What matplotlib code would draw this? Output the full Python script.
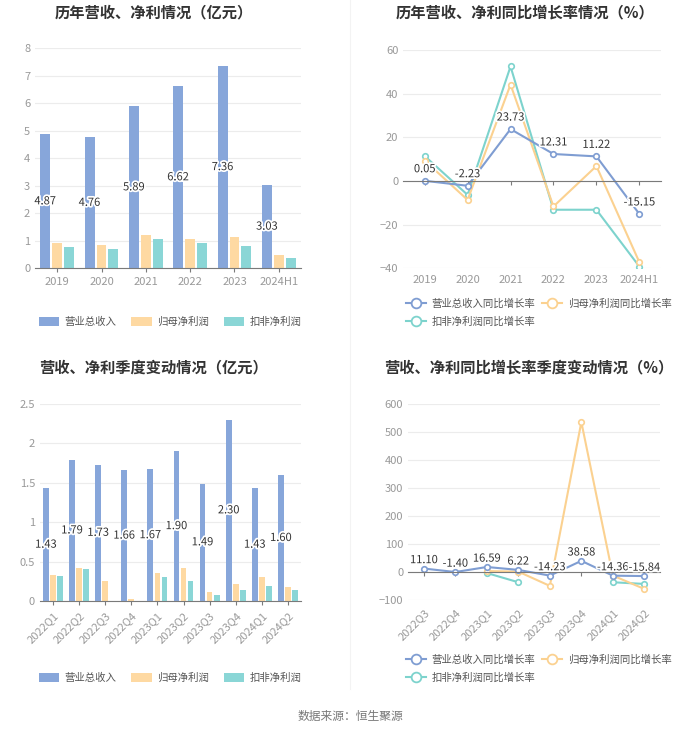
import numpy as np
import matplotlib
matplotlib.use('Agg')
import matplotlib.pyplot as plt
import matplotlib.patheffects as pe
from matplotlib.lines import Line2D
from matplotlib.patches import Patch

plt.rcParams['font.family'] = ['Noto Sans CJK SC', 'DejaVu Sans']

# 年度数据
years = ['2019', '2020', '2021', '2022', '2023', '2024H1']
rev_year = [4.87, 4.76, 5.89, 6.62, 7.36, 3.03]
np_year = [0.92, 0.85, 1.21, 1.07, 1.15, 0.49]
kf_year = [0.76, 0.70, 1.07, 0.93, 0.81, 0.36]

rev_yoy = [0.05, -2.23, 23.73, 12.31, 11.22, -15.15]
np_yoy = [9.3, -8.7, 44.1, -11.7, 6.8, -37.2]
kf_yoy = [11.4, -6.4, 52.4, -13.2, -13.2, -39.2]

# 季度数据
quarters = ['2022Q1', '2022Q2', '2022Q3', '2022Q4', '2023Q1', '2023Q2',
            '2023Q3', '2023Q4', '2024Q1', '2024Q2']
rev_q = [1.43, 1.79, 1.73, 1.66, 1.67, 1.90, 1.49, 2.30, 1.43, 1.60]
np_q = [0.33, 0.42, 0.25, 0.03, 0.35, 0.42, 0.12, 0.22, 0.31, 0.18]
kf_q = [0.32, 0.41, np.nan, np.nan, 0.31, 0.25, 0.08, 0.14, 0.19, 0.14]

quarters_yoy = ['2022Q3', '2022Q4', '2023Q1', '2023Q2', '2023Q3', '2023Q4',
                '2024Q1', '2024Q2']
rev_q_yoy = [11.10, -1.40, 16.59, 6.22, -14.23, 38.58, -14.36, -15.84]
np_q_yoy = [np.nan, np.nan, 2.0, 0.0, -51.0, 535.0, -14.0, -62.0]
kf_q_yoy = [np.nan, np.nan, -5.0, -38.0, np.nan, np.nan, -38.0, -44.0]

BLUE = '#87a6da'
YEL = '#fed9a2'
TEAL = '#8ad6d6'
LBLUE = '#7f9dd2'
LYEL = '#fbd190'
LTEAL = '#7dd3cd'
GREY = '#999999'

halo = [pe.withStroke(linewidth=2.5, foreground='white')]

fig = plt.figure(figsize=(7.0, 7.33), dpi=100)


def style_ax(ax):
    for s in ['top', 'right', 'left']:
        ax.spines[s].set_visible(False)
    ax.spines['bottom'].set_color('#7a7a7a')
    ax.grid(axis='y', color='#ececec', linewidth=0.8)
    ax.set_axisbelow(True)
    ax.tick_params(axis='y', length=0, colors=GREY, labelsize=8)
    ax.tick_params(axis='x', colors=GREY, labelsize=8, length=3,
                   color='#7a7a7a')


def bar_chart(ax, cats, rev, npv, kf, ylim, yticks, ytl, w, rot):
    x = np.arange(len(cats))
    off = 0.27
    ax.bar(x - off, rev, w, color=BLUE)
    ax.bar(x, npv, w, color=YEL)
    ax.bar(x + off, kf, w, color=TEAL)
    for xi, v in zip(x, rev):
        ax.text(xi - off, v / 2, f'{v:.2f}', ha='center', va='center',
                fontsize=8, color='#333333', path_effects=halo)
    style_ax(ax)
    ax.set_xlim(-0.5, len(cats) - 0.5)
    ax.set_ylim(*ylim)
    ax.set_yticks(yticks)
    ax.set_yticklabels(ytl)
    ax.set_xticks(x)
    if rot:
        ax.set_xticklabels(cats, rotation=45, ha='right', rotation_mode='anchor')
    else:
        ax.set_xticklabels(cats)


def line_chart(ax, cats, a, b, c, ylim, yticks, rot, dy):
    x = np.arange(len(cats))
    kw = dict(marker='o', markersize=4, markerfacecolor='white',
              markeredgewidth=1.2, linewidth=1.5)
    ax.plot(x, c, color=LTEAL, markeredgecolor=LTEAL, **kw)
    ax.plot(x, b, color=LYEL, markeredgecolor=LYEL, **kw)
    ax.plot(x, a, color=LBLUE, markeredgecolor=LBLUE, **kw)
    for xi, v in zip(x, a):
        ax.text(xi, v + dy, f'{v:.2f}', ha='center', va='bottom',
                fontsize=8, color='#333333', path_effects=halo)
    style_ax(ax)
    ax.spines['bottom'].set_position(('data', 0))
    ax.set_xlim(-0.5, len(cats) - 0.5)
    ax.set_ylim(*ylim)
    ax.set_yticks(yticks)
    ax.set_xticks(x)
    # x 轴标签放在底部
    ax.set_xticklabels([])
    for xi, lab in zip(x, cats):
        if rot:
            ax.text(xi, -0.04, lab, transform=ax.get_xaxis_transform(),
                    rotation=45, ha='right', va='top', rotation_mode='anchor',
                    fontsize=8, color=GREY)
        else:
            ax.text(xi, -0.03, lab, transform=ax.get_xaxis_transform(),
                    ha='center', va='top', fontsize=8, color=GREY)


bar_leg = [Patch(facecolor=BLUE, label='营业总收入'),
           Patch(facecolor=YEL, label='归母净利润'),
           Patch(facecolor=TEAL, label='扣非净利润')]


def line_handle(col, lab):
    return Line2D([0], [0], color=col, marker='o', markersize=7,
                  markerfacecolor='white', markeredgecolor=col,
                  markeredgewidth=1.3, linewidth=1.5, label=lab)


line_leg = [line_handle(LBLUE, '营业总收入同比增长率'),
            line_handle(LYEL, '归母净利润同比增长率'),
            line_handle(LTEAL, '扣非净利润同比增长率')]

leg_kw = dict(frameon=False, fontsize=7.5, labelcolor='#555555',
              handlelength=2.0, handleheight=1.0, columnspacing=1.4,
              handletextpad=0.5)
line_leg_kw = dict(leg_kw, columnspacing=0.6)

# 左上
ax1 = fig.add_axes([0.05, 0.634, 0.38, 0.3])
bar_chart(ax1, years, rev_year, np_year, kf_year, (0, 8), range(0, 9),
          [str(i) for i in range(0, 9)], 0.225, False)
fig.text(0.22, 0.983, '历年营收、净利情况（亿元）', ha='center', va='center',
         fontsize=11, fontweight='bold', color='#333333')
fig.legend(handles=bar_leg, loc='center', bbox_to_anchor=(0.243, 0.561),
           ncol=3, **leg_kw)

# 右上
ax2 = fig.add_axes([0.576, 0.634, 0.368, 0.298])
line_chart(ax2, years, rev_yoy, np_yoy, kf_yoy, (-40, 60),
           range(-40, 61, 20), False, 3)
fig.text(0.75, 0.983, '历年营收、净利同比增长率情况（%）', ha='center',
         va='center', fontsize=11, fontweight='bold', color='#333333')
fig.legend(handles=line_leg[:2], loc='center left', bbox_to_anchor=(0.566, 0.586),
           ncol=2, **line_leg_kw)
fig.legend(handles=line_leg[2:], loc='center left', bbox_to_anchor=(0.566, 0.561),
           ncol=1, **line_leg_kw)

# 左下
ax3 = fig.add_axes([0.057, 0.18, 0.373, 0.269])
bar_chart(ax3, quarters, rev_q, np_q, kf_q, (0, 2.5),
          [0, 0.5, 1, 1.5, 2, 2.5], ['0', '0.5', '1', '1.5', '2', '2.5'],
          0.22, True)
fig.text(0.22, 0.499, '营收、净利季度变动情况（亿元）', ha='center', va='center',
         fontsize=11, fontweight='bold', color='#333333')
fig.legend(handles=bar_leg, loc='center', bbox_to_anchor=(0.243, 0.075),
           ncol=3, **leg_kw)

# 右下
ax4 = fig.add_axes([0.583, 0.182, 0.36, 0.267])
line_chart(ax4, quarters_yoy, rev_q_yoy, np_q_yoy, kf_q_yoy, (-100, 600),
           range(-100, 601, 100), True, 12)
fig.text(0.755, 0.499, '营收、净利同比增长率季度变动情况（%）', ha='center',
         va='center', fontsize=11, fontweight='bold', color='#333333')
fig.legend(handles=line_leg[:2], loc='center left', bbox_to_anchor=(0.566, 0.1),
           ncol=2, **line_leg_kw)
fig.legend(handles=line_leg[2:], loc='center left', bbox_to_anchor=(0.566, 0.075),
           ncol=1, **line_leg_kw)

# 分隔线
fig.add_artist(Line2D([0.5, 0.5], [0.06, 1.0], color='#f3f3f3', linewidth=0.8))

fig.text(0.5, 0.022, '数据来源：恒生聚源', ha='center', va='center',
         fontsize=8.5, color='#777777')

fig.savefig('out.png', dpi=100, facecolor='white')
